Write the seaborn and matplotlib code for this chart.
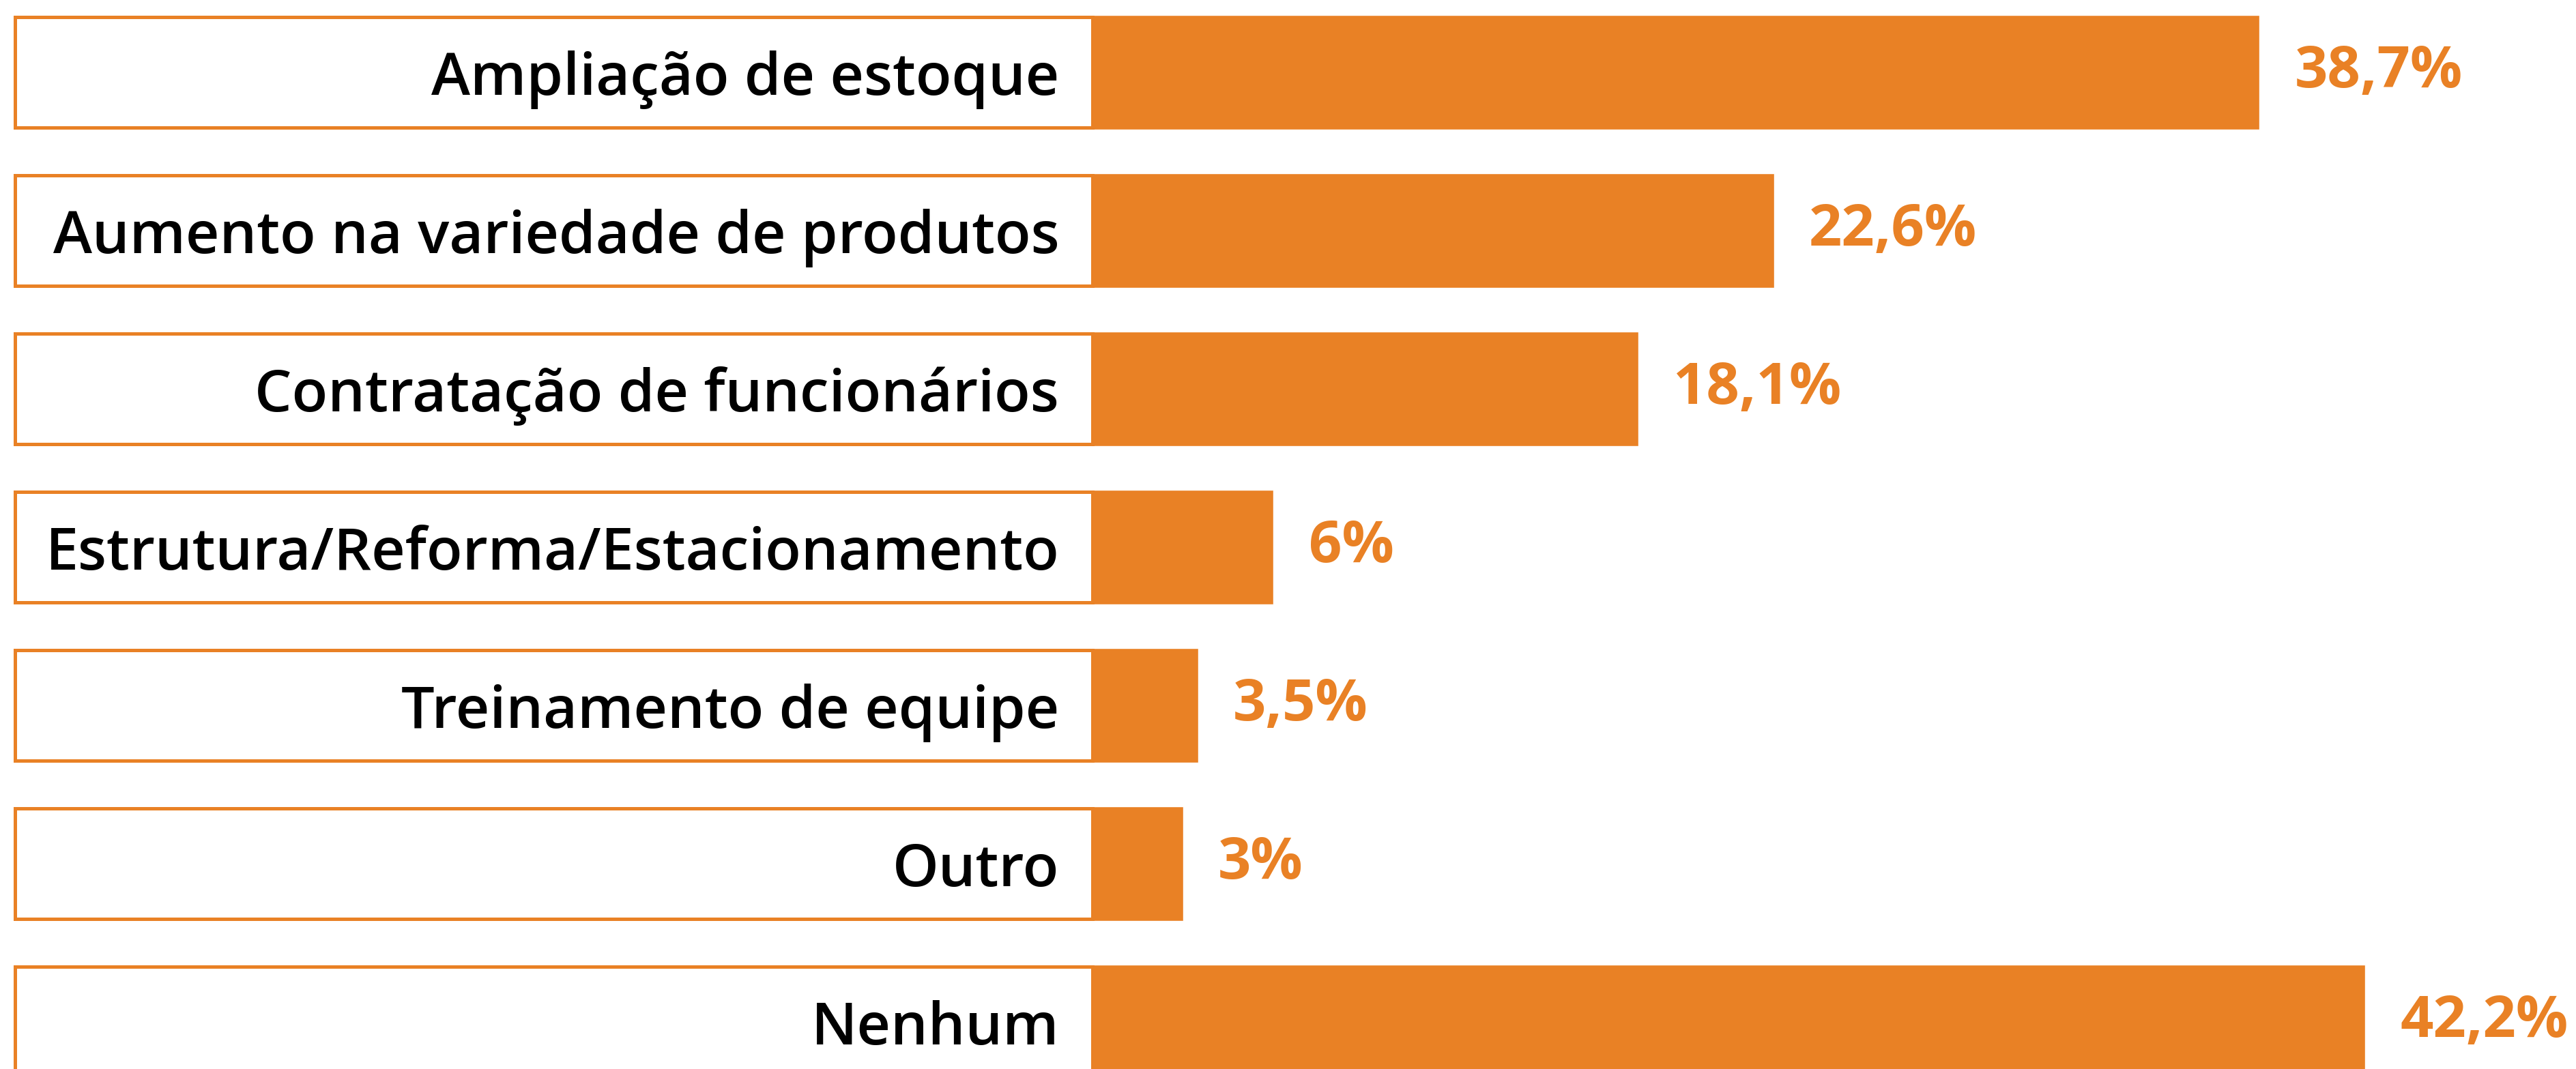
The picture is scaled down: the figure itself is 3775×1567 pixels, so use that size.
import matplotlib
matplotlib.use("Agg")
import matplotlib.pyplot as plt
import seaborn as sns
import pandas as pd

# data
categorias = ["Ampliação de estoque", "Aumento na variedade de produtos",
              "Contratação de funcionários", "Estrutura/Reforma/Estacionamento",
              "Treinamento de equipe", "Outro", "Nenhum"]
percentuais = [38.7, 22.6, 18.1, 6, 3.5, 3, 42.2]

laranja = "#E98125"

sns.set_theme(style="white")
plt.rcParams["font.family"] = ["Open Sans", "DejaVu Sans"]

df = pd.DataFrame({"cat": categorias, "pct": percentuais})

fig = plt.figure(figsize=(37.75, 15.67), dpi=100)
ax = fig.add_axes([0, 0, 1, 1])

sns.barplot(data=df, x="pct", y="cat", orient="h", color=laranja,
            saturation=1, width=0.724, ax=ax)

# white label boxes with orange frame, left of zero
box_left = -35.74
ax.barh(range(len(categorias)), [-box_left] * len(categorias), left=box_left,
        height=0.70, color="white", edgecolor=laranja, linewidth=3.6, zorder=1)

for i, c in enumerate(categorias):
    ax.text(-1.11, i, c, ha="right", va="center_baseline", fontsize=62,
            fontweight="semibold", color="black")

rotulos = [f"{v:g}".replace(".", ",") + "%" for v in percentuais]
ax.bar_label(ax.containers[0], labels=rotulos, padding=37, fontsize=61,
             fontweight="bold", color=laranja)

ax.set_xlim(-36.24, 49.2)
ax.set_ylim(6.297, -0.457)
ax.set_axis_off()

fig.savefig("out.png", dpi=100, facecolor="white")
